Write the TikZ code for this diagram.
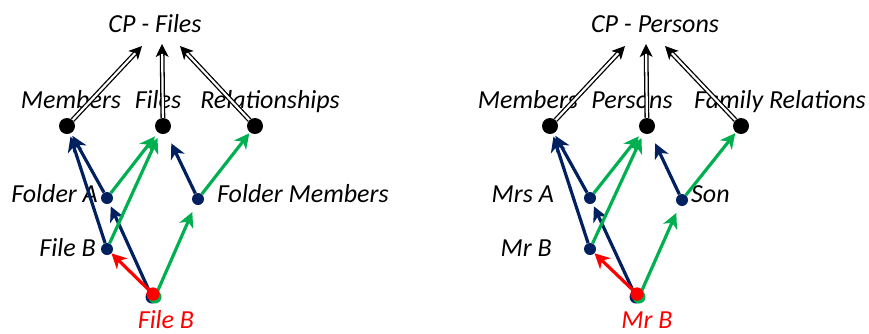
\documentclass[tikz,border=0pt]{standalone}
\usepackage{fontspec}
\setmainfont{Carlito}
\usetikzlibrary{arrows.meta}
\definecolor{navy}{HTML}{002060}
\definecolor{grn}{HTML}{00B050}
\definecolor{rd}{HTML}{FF0000}

\tikzset{
  lbl/.style={font=\fontsize{26}{30}\selectfont\itshape, inner sep=0pt},
  topdot/.style={circle, fill=black, minimum size=16pt, inner sep=0pt},
  subdot/.style={circle, fill=navy, minimum size=12pt, inner sep=0pt},
  rootdot/.style={circle, fill=#1, minimum size=13pt, inner sep=0pt},
  composes/.style={draw=black, line width=1.3pt, double=white, double distance=2.2pt,
    -{Stealth[length=13pt,width=13pt,inset=3.5pt]}},
  tipstyle/.style={-{Stealth[length=15pt,width=15pt,inset=4.5pt]}},
  navlink/.style={draw=navy, line width=3.2pt, tipstyle},
  grnlink/.style={draw=grn, line width=3.2pt, tipstyle},
  redlink/.style={draw=rd, line width=3.2pt, tipstyle},
}

\begin{document}
\begin{tikzpicture}[x=1pt,y=-1pt]
\useasboundingbox (0,0) rectangle (869,333);

% ---------- CP - Files ----------
\node[lbl, anchor=base] (tF) at (155,32) {CP - Files};
\coordinate (tF1) at (142,46);
\coordinate (tF2) at (162,44);
\coordinate (tF3) at (180,46);

\node[lbl, anchor=base] (lMemF) at (71,108) {Members};
\node[lbl, anchor=base] (lFiles) at (158,108) {Files};
\node[lbl, anchor=base] (lRel) at (270,108) {Relationships};

\node[topdot] (memF) at (67,126) {};
\node[topdot] (files) at (163,126) {};
\node[topdot] (rel) at (255,126) {};

\node[subdot] (fa) at (107,198) {};
\node[subdot] (fb) at (107,249) {};
\node[subdot] (fm) at (198,199) {};

\node[lbl, anchor=base east] at (98,202) {Folder A};
\node[lbl, anchor=base east] at (96,256) {File B};
\node[lbl, anchor=base west] at (217,202) {Folder Members};
\node[lbl, anchor=base, text=rd] at (166,328) {File B};

% root object, drawn as three stacked dots
\node[rootdot=navy] (rFn) at (152,297) {};
\node[rootdot=grn] (rFg) at (155,297) {};
\node[rootdot=rd] (rFr) at (153,294) {};

% composition arrows
\draw[composes] (memF) -- (tF1);
\draw[composes] (files) -- (tF2);
\draw[composes] (rel) -- (tF3);

% membership links
\draw[navlink, shorten >=3pt] (fa) -- (memF);
\draw[navlink, shorten >=3pt] (fb) -- (memF);
\draw[navlink, shorten >=11pt] (fm) -- (files);
\draw[navlink, shorten >=3pt] (rFn.center) -- (fa);
\draw[grnlink, shorten >=5pt] (fa) -- (files);
\draw[grnlink, shorten >=5pt] (fb) -- (files);
\draw[grnlink, shorten >=1pt] (fm) -- (rel);
\draw[grnlink, shorten >=8pt] (rFg.center) -- (fm);
\draw[redlink] (rFr.center) -- (fb);
\node[rootdot=rd] at (rFr) {};

% ---------- CP - Persons ----------
\node[lbl, anchor=base] (tP) at (655,32) {CP - Persons};
\coordinate (tP1) at (625,46);
\coordinate (tP2) at (646,44);
\coordinate (tP3) at (665,46);

\node[lbl, anchor=base] (lMemP) at (528,108) {Members};
\node[lbl, anchor=base] (lPers) at (632,108) {Persons};
\node[lbl, anchor=base] (lFam) at (780,108) {Family Relations};

\node[topdot] (memP) at (550,126) {};
\node[topdot] (pers) at (647,126) {};
\node[topdot] (fam) at (741,126) {};

\node[subdot] (mrsa) at (590,198) {};
\node[subdot] (mrb) at (590,249) {};
\node[subdot] (son) at (682,200) {};

\node[lbl, anchor=base east] at (554,202) {Mrs A};
\node[lbl, anchor=base east] at (552,256) {Mr B};
\node[lbl, anchor=base west] at (691,202) {Son};
\node[lbl, anchor=base, text=rd] at (647,328) {Mr B};

\node[rootdot=navy] (rPn) at (636,297) {};
\node[rootdot=grn] (rPg) at (639,297) {};
\node[rootdot=rd] (rPr) at (637,294) {};

\draw[composes] (memP) -- (tP1);
\draw[composes] (pers) -- (tP2);
\draw[composes] (fam) -- (tP3);

\draw[navlink, shorten >=3pt] (mrsa) -- (memP);
\draw[navlink, shorten >=3pt] (mrb) -- (memP);
\draw[navlink, shorten >=11pt] (son) -- (pers);
\draw[navlink, shorten >=3pt] (rPn.center) -- (mrsa);
\draw[grnlink, shorten >=5pt] (mrsa) -- (pers);
\draw[grnlink, shorten >=5pt] (mrb) -- (pers);
\draw[grnlink, shorten >=1pt] (son) -- (fam);
\draw[grnlink, shorten >=8pt] (rPg.center) -- (son);
\draw[redlink] (rPr.center) -- (mrb);
\node[rootdot=rd] at (rPr) {};
\end{tikzpicture}
\end{document}
